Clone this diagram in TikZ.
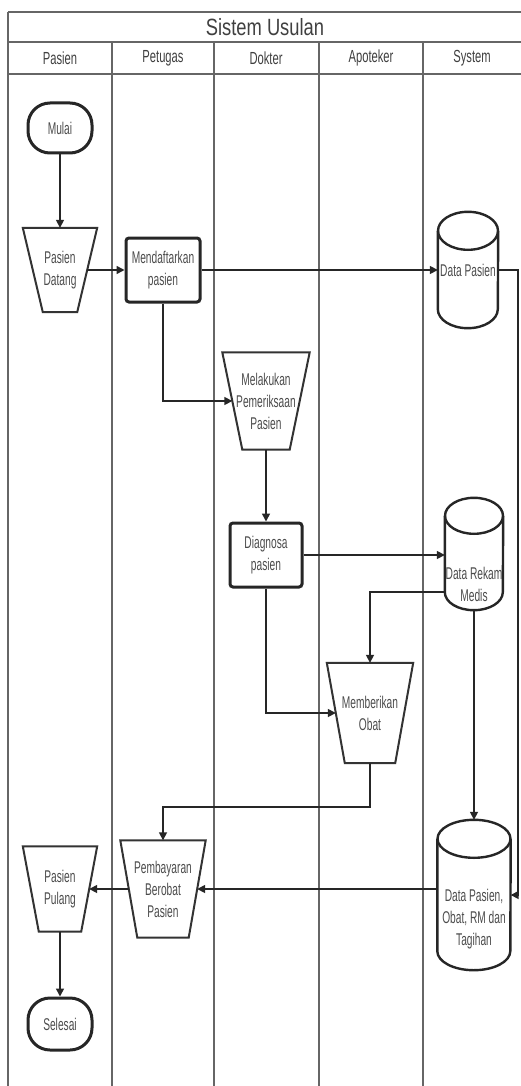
\documentclass[tikz,border=0pt]{standalone}
\usepackage{fontspec}
\setmainfont{Liberation Sans}
\newfontfamily\nodefont{Liberation Sans}[FakeStretch=0.6]
\newfontfamily\headfont{Liberation Sans}[FakeStretch=0.64]
\newfontfamily\titlefont{Liberation Sans}[FakeStretch=0.78]
\usetikzlibrary{calc,arrows.meta}
\newcommand\drawtrap[2]{\draw[shp] (#1.north west) -- (#1.north east) -- ([xshift=-#2pt]#1.south east) -- ([xshift=#2pt]#1.south west) -- cycle;}
\newcommand\drawcyl[4]{% name, rx, ry
  \draw[cyl] ([yshift=-#3pt]#1.north west) -- ([yshift=#3pt]#1.south west) arc[start angle=180,end angle=360,x radius=#2pt,y radius=#3pt] -- ([yshift=-#3pt]#1.north east);
  \draw[cyl] ([yshift=-#3pt]#1.north) ellipse[x radius=#2pt,y radius=#3pt];}
\begin{document}
\begin{tikzpicture}[x=1pt,y=-1pt,
  lane/.style={draw=black!60, line width=1.7pt},
  txt/.style={font=\nodefont\fontsize{17}{22}\selectfont, align=center, text=black!70},
  headtxt/.style={font=\headfont\fontsize{17.5}{20}\selectfont, text=black!75},
  term/.style={txt, draw=black!85, line width=3pt, rounded corners=22pt, minimum width=64pt, minimum height=50pt, inner sep=0pt},
  proc/.style={txt, draw=black!85, line width=3pt, rounded corners=3pt, minimum height=64pt, inner sep=0pt},
  box/.style={txt, inner sep=0pt},
  shp/.style={draw=black!80, line width=2pt},
  cyl/.style={draw=black!85, line width=2.4pt},
  flow/.style={draw=black!85, line width=1.6pt, -{Triangle[length=8pt,width=8pt]}},
]
\useasboundingbox (0,0) rectangle (520,1086);
\fill[white] (0,0) rectangle (520,1086);
% frame and lanes
\draw[lane] (8,12) -- (530,12);
\draw[lane] (8,42) -- (530,42);
\draw[lane] (8,74) -- (530,74);
\draw[lane] (8,12) -- (8,1090);
\foreach \x in {112,214,319,423} \draw[lane] (\x,42) -- (\x,1090);
\node[font=\titlefont\fontsize{23.5}{26}\selectfont, text=black!75] (title) at (265,27) {Sistem Usulan};
\node[headtxt] (h1) at (60,58) {Pasien};
\node[headtxt] (h2) at (163,58) {Petugas};
\node[headtxt] (h3) at (266,58) {Dokter};
\node[headtxt] (h4) at (371,58) {Apoteker};
\node[headtxt] (h5) at (472,58) {System};
% nodes
\node[term] (mulai) at (60,128) {Mulai};
\node[box, minimum width=74pt, minimum height=84pt] (pd) at (60,270) {Pasien\\Datang};
\drawtrap{pd}{20}
\node[proc, minimum width=74pt] (daftar) at (163,270) {Mendaftarkan\\pasien};
\node[box, minimum width=60pt, minimum height=116pt] (dp) at (468,270) {};
\drawcyl{dp}{30}{19}{}
\node[box] (dpt) at (468,270) {Data Pasien};
\node[box, minimum width=87pt, minimum height=97pt] (periksa) at (266,401) {Melakukan\\Pemeriksaan\\Pasien};
\drawtrap{periksa}{20}
\node[proc, minimum width=72pt] (diag) at (266,555) {Diagnosa\\pasien};
\node[box, minimum width=58pt, minimum height=112pt] (drm) at (474,554) {};
\drawcyl{drm}{29}{18}{}
\node[box] (drmt) at (474,584) {Data Rekam\\Medis};
\node[box, minimum width=86pt, minimum height=100pt] (obat) at (370,713) {Memberikan\\Obat};
\drawtrap{obat}{18}
\node[box, minimum width=73pt, minimum height=150pt] (dpo) at (474,895) {};
\drawcyl{dpo}{36.5}{19}{}
\node[box] (dpot) at (474,919) {Data Pasien,\\Obat, RM dan\\Tagihan};
\node[box, minimum width=85pt, minimum height=97pt] (bayar) at (163,889) {Pembayaran\\Berobat\\Pasien};
\drawtrap{bayar}{17}
\node[box, minimum width=74pt, minimum height=85pt] (pulang) at (60,889) {Pasien\\Pulang};
\drawtrap{pulang}{16}
\node[term, minimum height=52pt] (selesai) at (60,1024) {Selesai};
% connectors
\draw[flow] (mulai) -- (pd);
\draw[flow] ([xshift=-10pt]pd.east) -- (daftar.west);
\draw[flow] (daftar.east) -- (dp.west);
\draw[flow] (dp.east) -- ++(20,0) |- (dpo.east);
\draw[flow] (daftar.south) |- ([xshift=10pt]periksa.west);
\draw[flow] (periksa) -- (diag);
\draw[flow] (diag.east) -- (drm.west |- diag.east);
\draw[flow] ([yshift=-38pt]drm.west) -| (obat.north);
\draw[flow] (diag.south) |- ([xshift=9pt]obat.west);
\draw[flow] (obat.south) -- ++(0,44) -| (bayar.north);
\draw[flow] (drm.south) -- (dpo.north);
\draw[flow] (dpo.west |- bayar.east) -- ([xshift=-8.5pt]bayar.east);
\draw[flow] ([xshift=8.5pt]bayar.west) -- ([xshift=-8pt]pulang.east);
\draw[flow] (pulang) -- (selesai);
\end{tikzpicture}
\end{document}
